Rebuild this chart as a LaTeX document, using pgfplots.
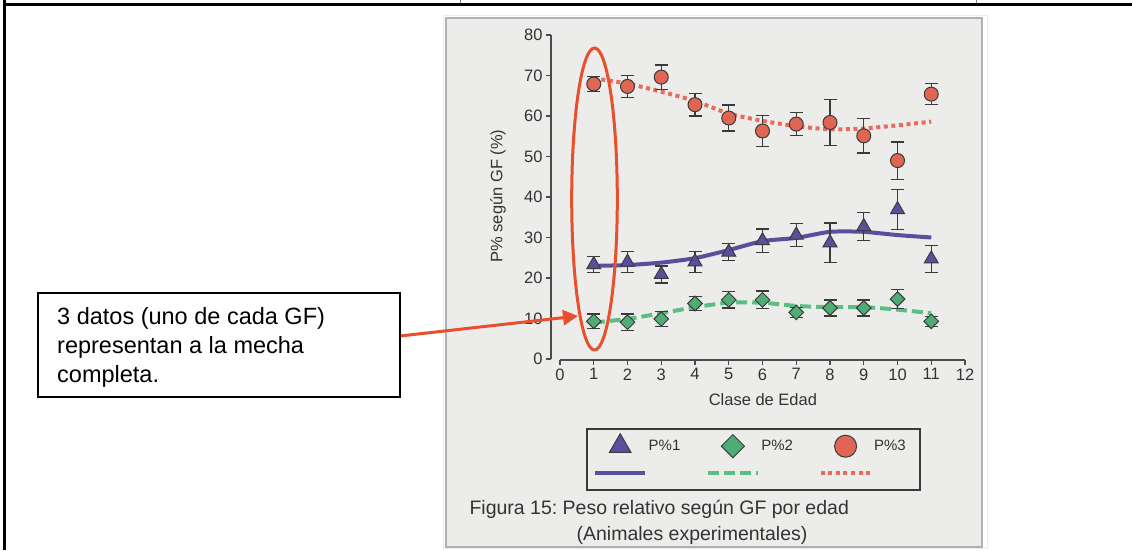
\documentclass[border=0pt]{standalone}
\usepackage{pgfplots}
\pgfplotsset{compat=1.18}
\usepackage{fontspec}
\setmainfont{Liberation Sans}
\usetikzlibrary{arrows.meta}
\frenchspacing

\definecolor{panel}{HTML}{ECECEA}
\definecolor{paneledge}{HTML}{B0B0B0}
\definecolor{edge}{HTML}{3A3A3A}
\definecolor{axisgray}{HTML}{4A4A4A}
\definecolor{txtgray}{HTML}{333333}
\definecolor{p1fill}{HTML}{5C4E9E}
\definecolor{p1line}{HTML}{5B4F9D}
\definecolor{p2fill}{HTML}{4EAC74}
\definecolor{p2line}{HTML}{5CBE84}
\definecolor{p3fill}{HTML}{E06553}
\definecolor{p3line}{HTML}{EA6B5C}
\definecolor{note}{HTML}{E84F2D}

% means and standard errors per age class
\pgfplotstableread{
x y e
1 23.3 2.0
2 23.9 2.6
3 20.9 2.1
4 24.0 2.6
5 26.4 2.1
6 29.2 2.9
7 30.6 2.9
8 28.7 4.9
9 32.7 3.5
10 36.9 5.0
11 24.7 3.3
}\tabPone
\pgfplotstableread{
x y e
1 9.3 1.8
2 9.1 2.0
3 9.9 1.8
4 13.7 1.8
5 14.6 2.0
6 14.6 2.2
7 11.5 1.3
8 12.6 2.0
9 12.6 2.0
10 14.8 2.3
11 9.3 1.2
}\tabPtwo
\pgfplotstableread{
x y e
1 67.9 1.8
2 67.3 2.7
3 69.6 3.0
4 62.8 2.8
5 59.5 3.2
6 56.3 3.9
7 58.0 2.9
8 58.4 5.7
9 55.1 4.2
10 49.0 4.6
11 65.4 2.6
}\tabPthree
% fitted trends
\pgfplotstableread{
x y
1 23.0
2 23.2
3 23.8
4 24.9
5 26.9
6 29.1
7 29.9
8 31.4
9 31.4
10 30.6
11 30.0
}\fitPone
\pgfplotstableread{
x y
1 9.0
2 9.9
3 11.3
4 12.8
5 13.9
6 13.9
7 13.1
8 12.8
9 12.8
10 12.2
11 11.3
}\fitPtwo
\pgfplotstableread{
x y
1 69.3
2 68.0
3 66.0
4 63.7
5 60.6
6 58.8
7 57.5
8 56.7
9 56.9
10 57.7
11 58.6
}\fitPthree

\pgfplotsset{
  lnone/.style={draw=p1line, line width=4pt, no markers},
  lntwo/.style={draw=p2line, line width=4pt, dash pattern=on 11pt off 5pt, no markers},
  lnthree/.style={draw=p3line, line width=4pt, dash pattern=on 4pt off 3.6pt, no markers},
  lineleg/.style={legend image code/.code={\draw[##1] (0pt,0pt) -- (50pt,0pt);}},
  markleg/.style={legend image code/.code={\path (0pt,0pt) (50pt,0pt);
      \draw[##1, mark size=#1] plot coordinates {(25pt,0pt)};}},
  ebars/.style={only marks, mark=none, error bars/.cd, y dir=both, y explicit,
      error bar style={draw=edge, line width=1.3pt},
      error mark options={rotate=90, mark size=6.5pt, line width=1.3pt, draw=edge},
      /pgfplots/.cd},
}

\begin{document}
\begin{tikzpicture}[x=1pt, y=1pt]
\path[use as bounding box] (0,0) rectangle (1132,550);

% page frame
\draw[black, line width=2.5pt] (4.3,550) -- (4.3,0);
\draw[black, line width=2.5pt] (3,545.7) -- (1132,545.7);
\draw[gray, line width=0.6pt] (460.7,550) -- (460.7,547);
\draw[gray, line width=0.6pt] (976.7,550) -- (976.7,547);

% figure panel
\draw[black!8, line width=0.8pt] (443.5,1.5) rectangle (987,535);
\filldraw[fill=panel, draw=paneledge, line width=2pt] (446,3.5) rectangle (981.5,532);

\begin{axis}[
  at={(560pt,191pt)}, anchor=south west,
  scale only axis, width=405pt, height=324pt,
  xmin=0, xmax=12, ymin=0, ymax=80,
  axis x line*=bottom, axis y line*=left,
  axis y line shift=9pt, axis x line shift=1pt,
  axis line style={draw=axisgray, line width=1.3pt},
  xtick={0,1,...,12}, ytick={0,10,...,80},
  tick align=outside, major tick length=5pt,
  tick style={draw=axisgray, line width=1.2pt},
  /pgf/number format/assume math mode=true,
  ticklabel style={font=\fontsize{16.5}{19}\selectfont, text=txtgray},
  xlabel={Clase de Edad}, ylabel={P\% según GF (\%)},
  every axis x label/.style={at={(axis description cs:0.501,-0.1265)}, anchor=center,
    font=\fontsize{16.5}{19}\selectfont, text=txtgray},
  every axis y label/.style={at={(axis description cs:-0.153,0.503)}, anchor=center, rotate=90,
    font=\fontsize{16.5}{19}\selectfont, text=txtgray},
  legend columns=3,
  legend style={at={(axis description cs:0.0815,-0.230)}, anchor=north west,
    draw=none, fill=none, inner sep=0pt,
    font=\fontsize{15}{17}\selectfont, text=txtgray,
    nodes={inner xsep=1.5pt, inner ysep=0pt},
    row sep=13pt,
    /tikz/every odd column/.append style={column sep=0pt},
    /tikz/every even column/.append style={column sep=24pt}},
  legend cell align=left,
  clip=false,
]
\addlegendimage{only marks, mark=triangle*, mark options={fill=p1fill, draw=edge, line width=1pt}, markleg=12.5pt}
\addlegendentry{P\%1}
\addlegendimage{only marks, mark=square*, mark options={rotate=45, fill=p2fill, draw=edge, line width=1pt}, markleg=8.2pt}
\addlegendentry{P\%2}
\addlegendimage{only marks, mark=*, mark options={fill=p3fill, draw=edge, line width=1pt}, markleg=11pt}
\addlegendentry{P\%3}
\addlegendimage{lnone, lineleg}
\addlegendentry{}
\addlegendimage{lntwo, lineleg}
\addlegendentry{}
\addlegendimage{lnthree, lineleg}
\addlegendentry{}

% trend lines
\addplot[lnone, smooth, tension=0.4, forget plot] table[x=x, y=y] {\fitPone};
\addplot[lntwo, smooth, tension=0.4, forget plot] table[x=x, y=y] {\fitPtwo};
\addplot[lnthree, smooth, tension=0.4, forget plot] table[x=x, y=y] {\fitPthree};

% error bars (standard error)
\addplot[forget plot, ebars] table[x=x, y=y, y error=e] {\tabPone};
\addplot[forget plot, ebars] table[x=x, y=y, y error=e] {\tabPtwo};
\addplot[forget plot, ebars] table[x=x, y=y, y error=e] {\tabPthree};

% class means
\addplot[forget plot, only marks, mark=triangle*, mark size=8pt,
  mark options={fill=p1fill, draw=edge, line width=1pt}]
  table[x=x, y=y] {\tabPone};
\addplot[forget plot, only marks, mark=square*, mark size=5.2pt,
  mark options={rotate=45, fill=p2fill, draw=edge, line width=1pt}]
  table[x=x, y=y] {\tabPtwo};
\addplot[forget plot, only marks, mark=*, mark size=7pt,
  mark options={fill=p3fill, draw=edge, line width=1pt}]
  table[x=x, y=y] {\tabPthree};
\end{axis}

% legend frame
\draw[edge, line width=1.2pt] (587,60) rectangle (920,121);

% caption
\node[font=\fontsize{19.5}{23}\selectfont, text=txtgray, anchor=west] at (466,41) {Figura 15: Peso relativo según GF por edad};
\node[font=\fontsize{19.5}{23}\selectfont, text=txtgray] at (692,14.5) {(Animales experimentales)};

% annotation
\draw[note, line width=3pt] (594.5,351) ellipse [x radius=22.8, y radius=151];
\draw[note, line width=3pt, -{Triangle[length=15pt, width=15pt]}] (400,214) -- (578,234);
\draw[black, line width=1.4pt, fill=white] (38,153) rectangle (400,257);
\node[anchor=north west, align=left, font=\fontsize{23.5}{29}\selectfont, inner sep=0pt] at (57,243)
  {3 datos (uno de cada GF)\\representan a la mecha\\completa.};
\end{tikzpicture}
\end{document}
